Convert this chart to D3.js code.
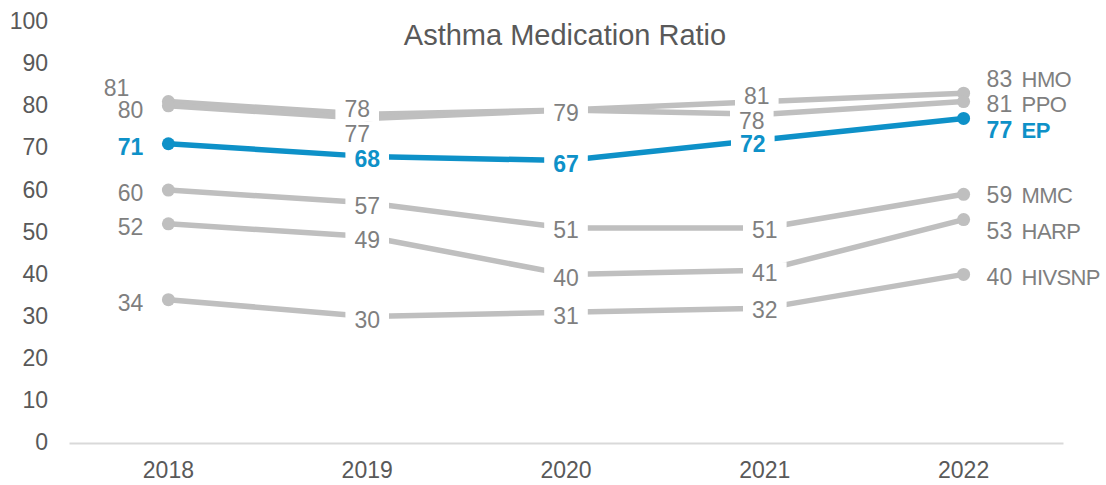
<!DOCTYPE html>
<html>
<head>
<meta charset="utf-8">
<script src="https://cdn.jsdelivr.net/npm/d3@7"></script>
<style>
  html, body { margin: 0; padding: 0; background: #fff; }
  svg { display: block; font-family: "Liberation Sans", Arial, sans-serif; }
</style>
</head>
<body>
<svg id="chart" width="1106" height="485"></svg>
<script>
// Asthma Medication Ratio by plan type, 2018-2022
const years = ["2018", "2019", "2020", "2021", "2022"];
const seriesNames = ["HMO", "PPO", "EP", "MMC", "HARP", "HIVSNP"];
const hmo    = [81, 78, 79, 81, 83];
const ppo    = [80, 77, 79, 78, 81];
const ep     = [71, 68, 67, 72, 77];
const mmc    = [60, 57, 51, 51, 59];
const harp   = [52, 49, 40, 41, 53];
const hivsnp = [34, 30, 31, 32, 40];
const yTicks = [0, 10, 20, 30, 40, 50, 60, 70, 80, 90, 100];
const title = "Asthma Medication Ratio";

const seriesValues = [hmo, ppo, ep, mmc, harp, hivsnp];
const highlight = "EP";

// label nudges [dx, dy] in px, per series and year, to keep labels apart
const labelNudge = {
  HMO:    [[-14, -14], [-10, -6], [0, 3], [-8, -6], [0, -14]],
  PPO:    [[0, 4], [-10, 15], [0, 3], [-13, 6], [0, 2]],
  EP:     [[0, 3], [0, 2], [0, 3], [-12, 4], [0, 11]],
  MMC:    [[0, 3], [0, 3], [0, 2], [0, 2], [0, 0]],
  HARP:   [[0, 3], [0, 3], [0, 3], [0, 3], [0, 11]],
  HIVSNP: [[0, 3], [0, 3], [0, 3], [0, 2], [0, 2]]
};

const GRAY = "#BFBFBF", BLUE = "#0E91C8", LABEL_GRAY = "#7F7F7F", AXIS_TEXT = "#595959";
const FS = 23;

const svg = d3.select("#chart");

const x = d3.scaleBand().domain(years).range([69, 1063]);
const y = d3.scaleLinear().domain([0, 100]).range([443, 21.5]);
const cx = d => x(d) + x.bandwidth() / 2;

// title
svg.append("text")
  .attr("x", 565).attr("y", 45)
  .attr("text-anchor", "middle")
  .attr("font-size", 29)
  .attr("fill", AXIS_TEXT)
  .text(title);

// y axis labels (no axis line)
const yAxis = svg.append("g")
  .attr("transform", "translate(48,0)")
  .call(d3.axisLeft(y).tickValues(yTicks).tickSize(0).tickPadding(0));
yAxis.select(".domain").remove();
yAxis.selectAll("text")
  .attr("font-size", FS).attr("font-family", "Liberation Sans, Arial, sans-serif")
  .attr("fill", AXIS_TEXT).attr("dy", "0.3em");

// x axis
const xAxis = svg.append("g")
  .attr("transform", "translate(0,443)")
  .call(d3.axisBottom(x).tickSize(0).tickPadding(19));
xAxis.select(".domain").attr("stroke", "#D9D9D9").attr("stroke-width", 2);
xAxis.selectAll("text")
  .attr("font-size", FS).attr("font-family", "Liberation Sans, Arial, sans-serif")
  .attr("fill", AXIS_TEXT);

const data = seriesNames.map((name, i) => ({
  name,
  values: seriesValues[i].map((v, j) => ({ year: years[j], value: v, idx: j }))
}));
// gray series first, highlighted series on top
const order = data.filter(d => d.name !== highlight).concat(data.filter(d => d.name === highlight));

const line = d3.line().x(d => cx(d.year)).y(d => y(d.value));

const lines = svg.append("g");
order.forEach(s => {
  const col = s.name === highlight ? BLUE : GRAY;
  lines.append("path")
    .attr("d", line(s.values))
    .attr("fill", "none")
    .attr("stroke", col)
    .attr("stroke-width", 5.5)
    .attr("stroke-linejoin", "round");
  lines.selectAll(null)
    .data(s.values.filter(d => d.idx === 0 || d.idx === years.length - 1))
    .join("circle")
    .attr("cx", d => cx(d.year))
    .attr("cy", d => y(d.value))
    .attr("r", 6.5)
    .attr("fill", col);
});

// data labels
const labels = svg.append("g");
data.forEach(s => {
  const isHi = s.name === highlight;
  const col = isHi ? BLUE : LABEL_GRAY;
  const weight = isHi ? "bold" : "normal";
  s.values.forEach(d => {
    const [dx, dy] = labelNudge[s.name][d.idx];
    const px = cx(d.year), py = y(d.value) + dy;
    const base = py + 0.36 * FS;
    const last = years.length - 1;
    if (d.idx === 0) {
      labels.append("text")
        .attr("x", px - 25 + dx).attr("y", base)
        .attr("text-anchor", "end")
        .attr("font-size", FS).attr("font-weight", weight).attr("fill", col)
        .text(d.value);
    } else if (d.idx === last) {
      labels.append("text")
        .attr("x", px + 23 + dx).attr("y", base)
        .attr("font-size", FS).attr("font-weight", weight).attr("fill", col)
        .text(d.value);
      labels.append("text")
        .attr("x", px + 58 + dx).attr("y", base)
        .attr("font-size", 22).attr("font-weight", weight).attr("fill", col)
        .attr("letter-spacing", "-0.6")
        .text(s.name);
    } else {
      const g = labels.append("g");
      const rect = g.append("rect").attr("fill", "#fff");
      const t = g.append("text")
        .attr("x", px + dx).attr("y", base)
        .attr("text-anchor", "middle")
        .attr("font-size", FS).attr("font-weight", weight).attr("fill", col)
        .text(d.value);
      const w = t.node().getComputedTextLength() + 18;
      rect.attr("x", px + dx - w / 2).attr("y", py - 11)
        .attr("width", w).attr("height", 24);
    }
  });
});
</script>
</body>
</html>
